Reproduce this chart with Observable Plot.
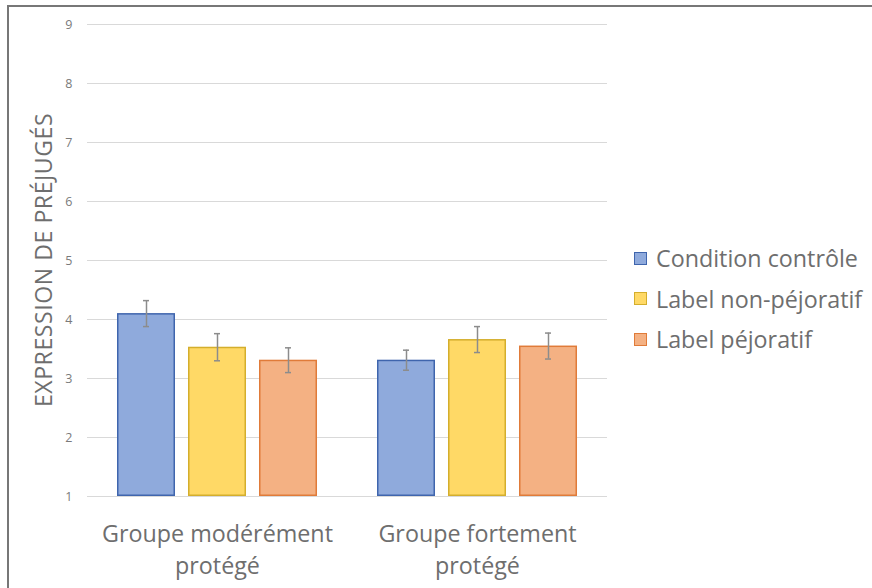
<!DOCTYPE html>
<html>
<head>
<meta charset="utf-8">
<script src="https://cdn.jsdelivr.net/npm/d3@7"></script>
<script src="https://cdn.jsdelivr.net/npm/@observablehq/plot@0.6"></script>
<style>
  html, body { margin: 0; padding: 0; background: #fff; overflow: hidden; }
  #wrap { position: relative; width: 872px; height: 588px; font-family: "Open Sans", sans-serif; }
  #frame { position: absolute; left: 7px; top: 5px; width: 900px; height: 620px; border: 2px solid #777; box-sizing: border-box; }
  #chart { position: absolute; left: 0; top: 0; }
  #ylabel { position: absolute; left: 43px; top: 260px; transform: translate(-50%, -50%) rotate(-90deg); white-space: nowrap; font-size: 23px; color: #6e6e6e; letter-spacing: 0.6px; }
  #legend { position: absolute; left: 634px; top: 238px; font-size: 23.3px; color: #6e6e6e; }
  .item { display: flex; align-items: center; height: 40.5px; white-space: nowrap; }
  .sw { width: 11px; height: 11px; margin-right: 9px; border: 1.5px solid; }
</style>
</head>
<body>
<div id="wrap">
  <div id="frame"></div>
  <div id="chart"></div>
  <div id="ylabel">EXPRESSION DE PRÉJUGÉS</div>
  <div id="legend"></div>
</div>
<script>
const groups = ["Groupe modérément protégé", "Groupe fortement protégé"];
const groupLines = ["Groupe modérément\nprotégé", "Groupe fortement\nprotégé"];
const conditions = ["Condition contrôle", "Label non-péjoratif", "Label péjoratif"];
const meansModere = [4.10, 3.53, 3.31];
const meansFort = [3.31, 3.66, 3.55];
const errModere = [0.22, 0.23, 0.21];
const errFort = [0.17, 0.22, 0.22];
const yTicks = [1, 2, 3, 4, 5, 6, 7, 8, 9];
const fills = ["#8faadc", "#ffd966", "#f4b183"];
const strokes = ["#3f65ad", "#d4ae2c", "#e07b39"];

const data = [];
conditions.forEach((c, i) => {
  data.push({group: groups[0], cond: c, mean: meansModere[i], err: errModere[i]});
  data.push({group: groups[1], cond: c, mean: meansFort[i], err: errFort[i]});
});

const barMarks = conditions.map((c, i) =>
  Plot.barY(data.filter(d => d.cond === c), {
    fx: "group", x: "cond", y1: 1, y2: "mean",
    fill: fills[i], stroke: strokes[i], strokeWidth: 1.5, inset: 0.75
  })
);

const chart = Plot.plot({
  width: 872,
  height: 588,
  marginLeft: 86,
  marginRight: 265,
  marginTop: 24,
  marginBottom: 92,
  style: {fontFamily: "Open Sans, sans-serif", background: "transparent", overflow: "visible"},
  fx: {domain: groups, paddingInner: 0, paddingOuter: 0},
  x: {domain: conditions, paddingInner: 0.18, paddingOuter: 0.4},
  y: {domain: [1, 9]},
  marks: [
    Plot.ruleY(yTicks, {stroke: "#d9d9d9", strokeWidth: 1.2}),
    Plot.axisY({ticks: yTicks, tickSize: 0, tickPadding: 15, fontSize: 12.5, color: "#7a7a7a", label: null, tickFormat: d => String(d)}),
    Plot.axisX({ticks: [], label: null}),
    Plot.axisFx({anchor: "bottom", tickSize: 0, tickPadding: 23, fontSize: 23.3, color: "#6e6e6e", label: null, lineHeight: 1.38,
      tickFormat: d => groupLines[groups.indexOf(d)]}),
    ...barMarks,
    Plot.ruleX(data, {fx: "group", x: "cond", y1: d => d.mean - d.err, y2: d => d.mean + d.err, stroke: "#8c8c8c", strokeWidth: 1.5}),
    Plot.tickY(data, {fx: "group", x: "cond", y: d => d.mean + d.err, stroke: "#8c8c8c", strokeWidth: 1.5, inset: 26}),
    Plot.tickY(data, {fx: "group", x: "cond", y: d => d.mean - d.err, stroke: "#8c8c8c", strokeWidth: 1.5, inset: 26})
  ]
});
document.getElementById("chart").appendChild(chart);

const legend = document.getElementById("legend");
conditions.forEach((c, i) => {
  const it = document.createElement("div");
  it.className = "item";
  const sw = document.createElement("span");
  sw.className = "sw";
  sw.style.background = fills[i];
  sw.style.borderColor = strokes[i];
  const t = document.createElement("span");
  t.textContent = c;
  it.appendChild(sw);
  it.appendChild(t);
  legend.appendChild(it);
});
</script>
</body>
</html>
